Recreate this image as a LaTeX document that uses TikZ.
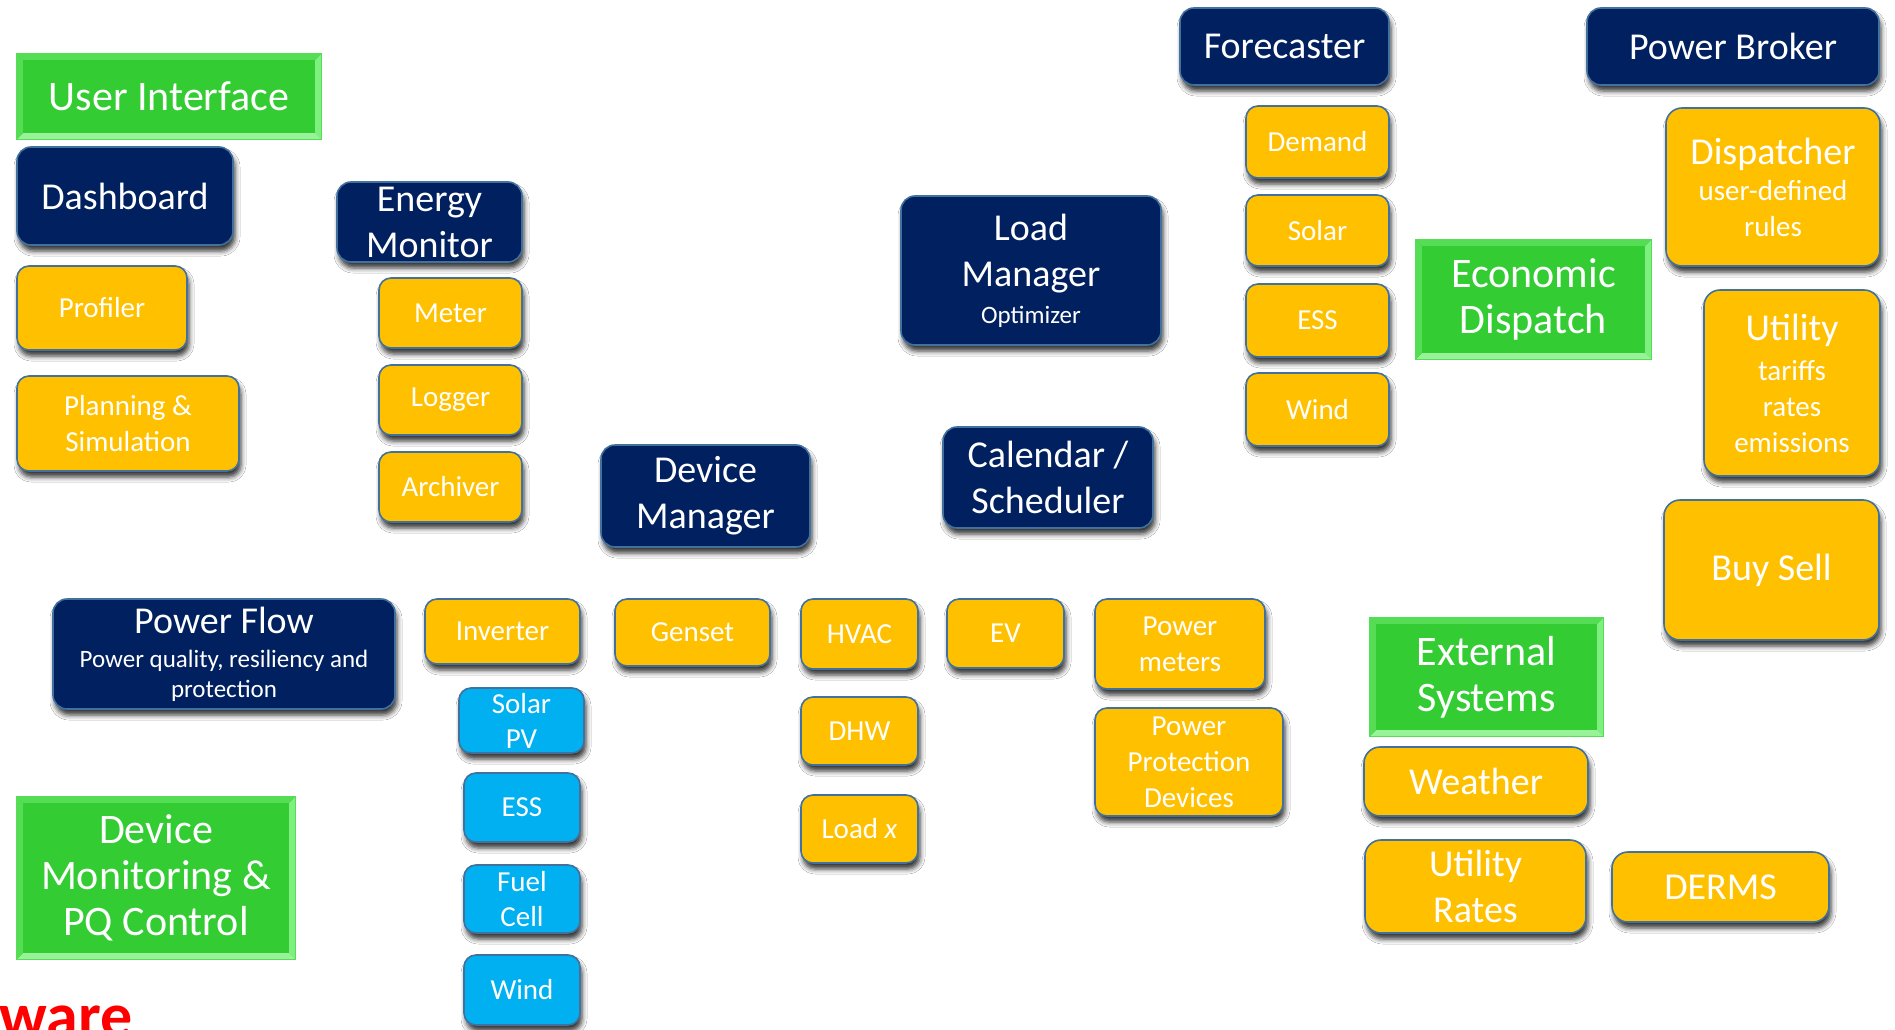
\documentclass[tikz,border=0pt]{standalone}
\usepackage{fontspec}
\setmainfont{Carlito}
\usetikzlibrary{shadows.blur}
\definecolor{navy}{HTML}{002060}
\definecolor{orng}{HTML}{FFC000}
\definecolor{cyanb}{HTML}{00B0F0}
\definecolor{grn}{HTML}{33CC33}
\definecolor{grnlight}{HTML}{7FF07F}
\definecolor{grnedge}{HTML}{55DD55}
\definecolor{edge}{HTML}{41719C}
\newcommand\fsz[2]{\fontsize{#1}{#2}\selectfont}
\newcommand\bx[7]{\node[#1, minimum width={(#5-#3)*1pt}, minimum height={(#6-#4)*1pt}] (#2) at ({(#3+#5)/2},{(#4+#6)/2}) {#7};}
\newcommand\bevel[1]{%
  \fill[grnlight] (#1.north east) -- (#1.south east) -- ([shift={(-6,-6)}]#1.south east) -- ([shift={(-6,6)}]#1.north east) -- cycle;
  \fill[grnlight!80!white] (#1.south west) -- (#1.south east) -- ([shift={(-6,-6)}]#1.south east) -- ([shift={(6,-6)}]#1.south west) -- cycle;
  \fill[grnedge] (#1.north west) -- (#1.north east) -- ([shift={(-6,6)}]#1.north east) -- ([shift={(6,6)}]#1.north west) -- cycle;
  \fill[grnedge] (#1.north west) -- (#1.south west) -- ([shift={(6,-6)}]#1.south west) -- ([shift={(6,6)}]#1.north west) -- cycle;
  \draw[grnedge, line width=1pt] (#1.north west) rectangle (#1.south east);}
\tikzset{
  basebox/.style={rectangle, rounded corners=#1, draw=edge, line width=1.6pt, text=white, align=center, inner sep=0pt,
    blur shadow={shadow xshift=2pt, shadow yshift=-6pt, shadow blur radius=5pt, shadow opacity=80}},
  navybox/.style={basebox=14pt, fill=navy, font=\fsz{38}{46}},
  orbox/.style={basebox=12pt, fill=orng, font=\fsz{29}{36}},
  bigor/.style={basebox=16pt, fill=orng, font=\fsz{38}{46}},
  bluebox/.style={basebox=12pt, fill=cyanb, font=\fsz{29}{35}},
  greenbox/.style={rectangle, fill=grn, text=white, align=center, inner sep=0pt, font=\fsz{42}{46}},
  redtext/.style={text=red, font=\fsz{64}{64}\bfseries, inner sep=0pt},
}
\begin{document}
\begin{tikzpicture}[x=1pt, y=-1pt]
\path[use as bounding box, clip] (0,0) rectangle (1895,1030);
\fill[white] (0,0) rectangle (1895,1030);
% green headers
\bx{greenbox}{ui}{17}{54}{321}{139}{}
\bevel{ui}
\node[text=white, font=\fsz{42}{46}] (uit) at (ui.center) {User Interface};
\bx{greenbox}{ed}{1416}{240}{1651}{359}{}
\bevel{ed}
\node[text=white, font=\fsz{42}{46}, align=center] (edt) at (ed.center) {Economic\\Dispatch};
\bx{greenbox}{ext}{1370}{618}{1603}{736}{}
\bevel{ext}
\node[text=white, font=\fsz{42}{46}, align=center] (extt) at (ext.center) {External\\Systems};
\bx{greenbox}{dmpq}{17}{797}{295}{959}{}
\bevel{dmpq}
\node[text=white, font=\fsz{42}{46}, align=center] (dmpqt) at (dmpq.center) {Device\\Monitoring \&\\PQ Control};
% navy
\bx{navybox}{dash}{17}{147}{233}{245}{Dashboard}
\bx{navybox}{em}{337}{182}{522}{262}{Energy\\Monitor}
\bx{navybox}{dm}{601}{445}{810}{547}{Device\\Manager}
\bx{navybox}{lm}{901}{196}{1161}{345}{Load\\Manager\\[-9pt]\fsz{25}{30}Optimizer}
\bx{navybox}{cal}{943}{427}{1153}{528}{Calendar /\\Scheduler}
\bx{navybox}{fc}{1180}{8}{1389}{85}{Forecaster}
\bx{navybox}{pb}{1587}{8}{1879}{85}{Power Broker}
\bx{navybox, font=\fsz{38}{30}}{pf}{53}{599}{395}{709}{Power Flow\\[4pt]\fsz{25}{30}Power quality, resiliency and\\\fsz{25}{30}protection}
% orange left
\bx{orbox}{prof}{17}{266}{187}{350}{Profiler}
\bx{orbox}{plan}{17}{376}{239}{471}{Planning \&\\Simulation}
\bx{orbox}{meter}{379}{278}{522}{348}{Meter}
\bx{orbox}{logger}{379}{365}{522}{435}{Logger}
\bx{orbox}{arch}{379}{452}{522}{522}{Archiver}
% forecaster children
\bx{orbox}{demand}{1246}{106}{1389}{178}{Demand}
\bx{orbox}{fsolar}{1246}{195}{1389}{266}{Solar}
\bx{orbox}{fess}{1246}{284}{1389}{357}{ESS}
\bx{orbox}{fwind}{1246}{373}{1389}{446}{Wind}
% right column
\bx{bigor, font=\fsz{38}{36}}{disp}{1666}{108}{1880}{266}{Dispatcher\\\fsz{29}{36}user-defined\\\fsz{29}{36}rules}
\bx{bigor, font=\fsz{38}{36}}{util}{1704}{290}{1880}{476}{Utility\\[4pt]\fsz{29}{36}tariffs\\\fsz{29}{36}rates\\\fsz{29}{36}emissions}
\bx{bigor}{buy}{1664}{500}{1879}{640}{Buy Sell}
% devices
\bx{orbox}{inv}{425}{599}{580}{664}{Inverter}
\bx{bluebox}{spv}{459}{688}{584}{753}{Solar\\PV}
\bx{bluebox}{bess}{464}{773}{580}{842}{ESS}
\bx{bluebox}{fuel}{464}{865}{580}{933}{Fuel\\Cell}
\bx{bluebox}{bwind}{464}{955}{580}{1025}{Wind}
\bx{orbox}{genset}{615}{599}{770}{666}{Genset}
\bx{orbox}{hvac}{801}{599}{918}{669}{HVAC}
\bx{orbox}{dhw}{801}{697}{918}{765}{DHW}
\bx{orbox}{loadx}{801}{795}{918}{863}{Load \textit{x}}
\bx{orbox}{ev}{947}{599}{1064}{668}{EV}
\bx{orbox}{pm}{1095}{599}{1265}{689}{Power\\meters}
\bx{orbox}{ppd}{1095}{708}{1283}{816}{Power\\Protection\\Devices}
% external
\bx{bigor}{weather}{1364}{747}{1588}{816}{Weather}
\bx{bigor}{urates}{1365}{840}{1586}{933}{Utility\\Rates}
\bx{bigor}{derms}{1612}{852}{1829}{922}{DERMS}
% red partial text
\node[redtext, anchor=base east] (sw) at (133,1037) {ware};
\end{tikzpicture}
\end{document}
